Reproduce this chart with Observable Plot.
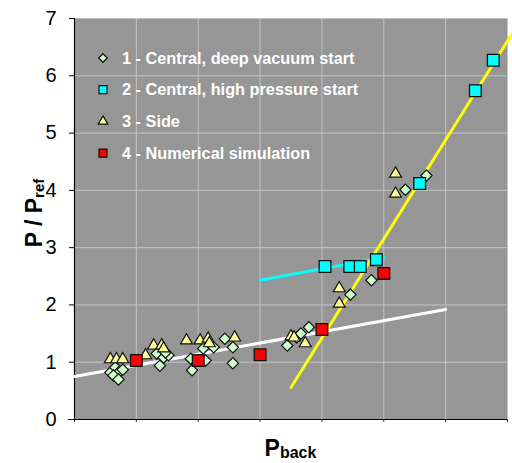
<!DOCTYPE html>
<html>
<head>
<meta charset="utf-8">
<script src="https://cdn.jsdelivr.net/npm/d3@7"></script>
<script src="https://cdn.jsdelivr.net/npm/@observablehq/plot@0.6"></script>
<style>
  html, body { margin: 0; padding: 0; background: #ffffff; }
  #wrap { position: relative; width: 512px; height: 463px; font-family: "Liberation Sans", Arial, sans-serif; }
  #wrap svg.overlay { position: absolute; left: 0; top: 0; pointer-events: none; }
</style>
</head>
<body>
<div id="wrap"></div>
<script>
// ---- Data ----
const xTicks = [0, 1, 2, 3, 4, 5, 6, 7];
const yTicks = [0, 1, 2, 3, 4, 5, 6, 7];

// 1 - Central, deep vacuum start (diamonds)
const s1x = [0.58, 0.66, 0.71, 0.63, 0.71, 0.78,
             1.33, 1.44, 1.52, 1.38, 1.47,
             1.88, 1.90, 2.12, 2.08, 2.25, 2.43, 2.56, 2.56,
             3.44, 3.59, 3.66, 3.79,
             4.46, 4.80, 5.35, 5.69];
const s1y = [0.82, 0.91, 0.82, 0.77, 0.70, 0.87,
             1.15, 1.08, 1.12, 0.94, 1.17,
             1.06, 0.86, 1.03, 1.24, 1.26, 1.41, 1.26, 0.98,
             1.29, 1.43, 1.50, 1.61,
             2.18, 2.43, 4.01, 4.26];

// 2 - Central, high pressure start (cyan squares)
const s2x = [4.05, 4.45, 4.62, 4.88, 5.58, 6.48, 6.77];
const s2y = [2.67, 2.67, 2.67, 2.79, 4.12, 5.74, 6.27];

// 3 - Side (triangles)
const s3x = [0.58, 0.68, 0.78, 1.15, 1.28, 1.41, 1.44, 1.81, 2.03, 2.16, 2.18, 2.59,
             3.50, 3.55, 3.73, 4.28, 4.28, 5.19, 5.19];
const s3y = [1.05, 1.05, 1.05, 1.12, 1.29, 1.29, 1.24, 1.38, 1.38, 1.41, 1.33, 1.43,
             1.45, 1.43, 1.33, 2.29, 2.02, 4.29, 3.94];

// 4 - Numerical simulation (red squares)
const s4x = [1.0, 2.0, 3.0, 4.0, 5.0];
const s4y = [1.03, 1.03, 1.13, 1.57, 2.55];

// Trend lines
const whiteX = [0.0, 6.0];
const whiteY = [0.75, 1.92];
const cyanX = [3.0, 5.0];
const cyanY = [2.43, 2.83];
const yellowX = [3.5, 7.1];
const yellowY = [0.56, 6.78];

// Legend
const legendNames = ["1 - Central, deep vacuum start", "2 - Central, high pressure start", "3 - Side", "4 - Numerical simulation"];
const legendSymbols = ["diamond2", "square", "triangle", "square"];
const legendFills = ["#ccffcc", "#00ffff", "#ffff99", "#ff0000"];

// ---- Chart ----
const markStroke = "#111111";
const font = "'Liberation Sans', Arial, sans-serif";

const chart = Plot.plot({
  width: 512,
  height: 463,
  marginTop: 18,
  marginBottom: 44,
  marginLeft: 74,
  marginRight: 5,
  style: { background: "transparent", fontFamily: font, fontSize: "20px", color: "#000", overflow: "visible" },
  x: { domain: [0, 7], axis: null },
  y: { domain: [0, 7], axis: null },
  marks: [
    Plot.frame({ fill: "#969696", stroke: "#808080" }),
    Plot.gridX(xTicks, { stroke: "#c4c4c4", strokeOpacity: 1, strokeWidth: 1 }),
    Plot.gridY(yTicks, { stroke: "#c4c4c4", strokeOpacity: 1, strokeWidth: 1 }),
    Plot.axisY(yTicks, { tickSize: 5, tickPadding: 13, label: null, stroke: "#000", fill: "#000", tickFormat: d3.format("d") }),
    Plot.axisX(xTicks, { tickSize: 3, label: null, tickFormat: () => "", stroke: "#333" }),
    Plot.ruleX([0], { stroke: "#000", strokeWidth: 1.2 }),
    Plot.ruleY([0], { stroke: "#000", strokeWidth: 1.2, insetLeft: -6 }),
    Plot.line(d3.zip(whiteX, whiteY), { stroke: "#ffffff", strokeWidth: 3 }),
    Plot.line(d3.zip(cyanX, cyanY), { stroke: "#00ffff", strokeWidth: 3 }),
    Plot.line(d3.zip(yellowX, yellowY), { stroke: "#ffff00", strokeWidth: 3 }),
    Plot.dot(d3.zip(s1x, s1y), { symbol: "diamond2", r: 5.1, fill: "#ccffcc", stroke: markStroke, strokeWidth: 1.2 }),
    Plot.dot(d3.zip(s3x, s3y), { symbol: "triangle", r: 4.4, fill: "#ffff99", stroke: markStroke, strokeWidth: 1.2 }),
    Plot.dot(d3.zip(s2x, s2y), { symbol: "square", r: 6.6, fill: "#00ffff", stroke: markStroke, strokeWidth: 1.3 }),
    Plot.dot(d3.zip(s4x, s4y), { symbol: "square", r: 6.6, fill: "#ff0000", stroke: markStroke, strokeWidth: 1.3 })
  ]
});

const wrap = document.getElementById("wrap");
wrap.appendChild(chart);

// ---- Overlay: axis titles and legend ----
const ov = d3.select(wrap).append("svg")
  .attr("class", "overlay")
  .attr("width", 512).attr("height", 463)
  .attr("font-family", font);

// Y title: P / P_ref
const yt = ov.append("text")
  .attr("transform", "translate(42,213) rotate(-90)")
  .attr("text-anchor", "middle")
  .attr("font-weight", "bold")
  .attr("font-size", 23)
  .attr("fill", "#000");
yt.append("tspan").text("P / P");
yt.append("tspan").attr("font-size", 15).attr("dy", 2).text("ref");

// X title: P_back
const xt = ov.append("text")
  .attr("x", 290.5).attr("y", 456)
  .attr("text-anchor", "middle")
  .attr("font-weight", "bold")
  .attr("font-size", 23)
  .attr("fill", "#000");
xt.append("tspan").text("P");
xt.append("tspan").attr("font-size", 16).attr("dy", 2).text("back");

// Legend
const legendSizes = { diamond2: 47, square: 64, triangle: 40 };
const symMap = { diamond2: d3.symbolDiamond2, square: d3.symbolSquare, triangle: d3.symbolTriangle };
const lg = ov.append("g");
legendNames.forEach((name, i) => {
  const cy = 58 + 31.7 * i;
  lg.append("path")
    .attr("transform", `translate(103,${cy})`)
    .attr("d", d3.symbol(symMap[legendSymbols[i]], legendSizes[legendSymbols[i]])())
    .attr("fill", legendFills[i])
    .attr("stroke", markStroke)
    .attr("stroke-width", 1.2);
  lg.append("text")
    .attr("x", 122).attr("y", cy + 5.6)
    .attr("font-size", 16.3)
    .attr("font-weight", "bold")
    .attr("fill", "#ffffff")
    .text(name);
});
</script>
</body>
</html>
